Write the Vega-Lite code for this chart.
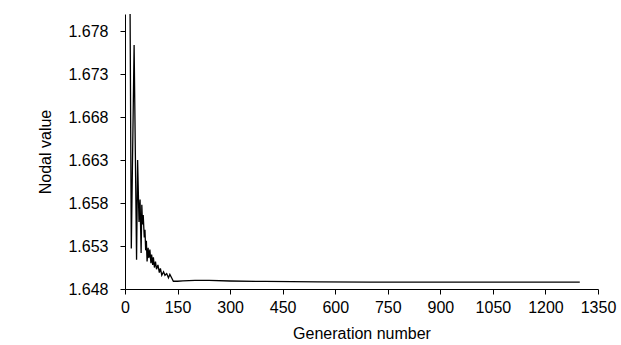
{
  "$schema": "https://vega.github.io/schema/vega-lite/v6.json",
  "width": 473,
  "height": 275,
  "autosize": {"type": "none"},
  "padding": {"left": 125, "top": 14, "right": 23, "bottom": 56},
  "background": "white",
  "config": {
    "view": {"stroke": null},
    "axis": {
      "grid": false,
      "domainColor": "black",
      "tickColor": "black",
      "labelColor": "black",
      "titleColor": "black",
      "labelFont": "Liberation Sans",
      "titleFont": "Liberation Sans",
      "labelFontSize": 16,
      "titleFontSize": 16,
      "titleFontWeight": "normal",
      "tickSize": 5,
      "domainWidth": 1,
      "tickWidth": 1
    }
  },
  "data": {
    "values": [
      {"gen": 12, "value": 1.700},
      {"gen": 18, "value": 1.6527},
      {"gen": 26, "value": 1.6764},
      {"gen": 33, "value": 1.6514},
      {"gen": 36, "value": 1.6630},
      {"gen": 40, "value": 1.6558},
      {"gen": 43, "value": 1.6584},
      {"gen": 46, "value": 1.6522},
      {"gen": 48, "value": 1.6578},
      {"gen": 50, "value": 1.6555},
      {"gen": 52, "value": 1.6566},
      {"gen": 55, "value": 1.6540},
      {"gen": 57, "value": 1.6549},
      {"gen": 59, "value": 1.6525},
      {"gen": 61, "value": 1.6536},
      {"gen": 63, "value": 1.6512},
      {"gen": 66, "value": 1.6528},
      {"gen": 68, "value": 1.6516},
      {"gen": 71, "value": 1.6526},
      {"gen": 74, "value": 1.6510},
      {"gen": 76, "value": 1.6520},
      {"gen": 79, "value": 1.6508},
      {"gen": 81, "value": 1.6517},
      {"gen": 84, "value": 1.6505},
      {"gen": 87, "value": 1.6512},
      {"gen": 90, "value": 1.6503},
      {"gen": 94, "value": 1.6508},
      {"gen": 98, "value": 1.6499},
      {"gen": 101, "value": 1.6504},
      {"gen": 105, "value": 1.6496},
      {"gen": 110, "value": 1.6500},
      {"gen": 114, "value": 1.6496},
      {"gen": 119, "value": 1.6498},
      {"gen": 124, "value": 1.6493},
      {"gen": 128, "value": 1.6497},
      {"gen": 133, "value": 1.6493},
      {"gen": 138, "value": 1.6489},
      {"gen": 150, "value": 1.6489},
      {"gen": 165, "value": 1.64895},
      {"gen": 200, "value": 1.6490},
      {"gen": 240, "value": 1.6490},
      {"gen": 300, "value": 1.64893},
      {"gen": 400, "value": 1.64888},
      {"gen": 550, "value": 1.64884},
      {"gen": 700, "value": 1.6488},
      {"gen": 900, "value": 1.6488},
      {"gen": 1100, "value": 1.6488},
      {"gen": 1298, "value": 1.6488}
    ]
  },
  "mark": {"type": "line", "color": "black", "strokeWidth": 1.3, "clip": true},
  "encoding": {
    "x": {
      "field": "gen",
      "type": "quantitative",
      "scale": {"domain": [0, 1350], "nice": false},
      "axis": {
        "title": "Generation number",
        "values": [0, 150, 300, 450, 600, 750, 900, 1050, 1200, 1350],
        "format": "d",
        "labelPadding": 5,
        "titlePadding": 10,
        "labelFlush": false,
        "labelOverlap": false
      }
    },
    "y": {
      "field": "value",
      "type": "quantitative",
      "scale": {"domain": [1.648, 1.680], "nice": false, "zero": false},
      "axis": {
        "title": "Nodal value",
        "values": [1.648, 1.653, 1.658, 1.663, 1.668, 1.673, 1.678],
        "format": ".3f",
        "labelPadding": 12,
        "titlePadding": 14,
        "labelFlush": false,
        "labelOverlap": false
      }
    }
  }
}
